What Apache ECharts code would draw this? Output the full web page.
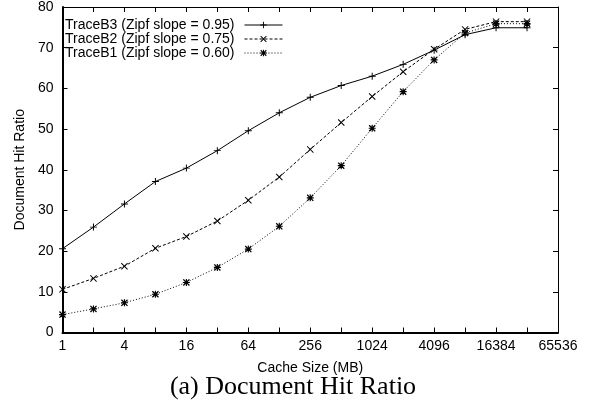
<!DOCTYPE html>
<html>
<head>
<meta charset="utf-8">
<script src="https://cdn.jsdelivr.net/npm/echarts@6/dist/echarts.min.js"></script>
<style>
html,body{margin:0;padding:0;background:#fff;}
#chart{width:591px;height:404px;}
</style>
</head>
<body>
<div id="chart"></div>
<script>
// Cache sizes (MB)
const cacheSizes = [1, 2, 4, 8, 16, 32, 64, 128, 256, 512, 1024, 2048, 4096, 8192, 16384, 32768];
// Document hit ratio (%)
const traceB3 = [20.6, 25.9, 31.6, 37.1, 40.4, 44.7, 49.6, 54.0, 57.8, 60.7, 63.0, 65.9, 69.4, 73.2, 74.9, 74.9];
const traceB2 = [10.6, 13.3, 16.3, 20.7, 23.6, 27.4, 32.5, 38.2, 45.0, 51.6, 58.0, 64.1, 69.6, 74.5, 76.4, 76.4];
const traceB1 = [4.4, 5.8, 7.3, 9.4, 12.3, 16.0, 20.5, 26.1, 33.1, 41.0, 50.2, 59.2, 67.0, 73.6, 75.9, 75.9];
const seriesNames = ['TraceB3 (Zipf slope = 0.95)', 'TraceB2 (Zipf slope = 0.75)', 'TraceB1 (Zipf slope = 0.60)'];
const xTickLabels = ['1', '4', '16', '64', '256', '1024', '4096', '16384', '65536'];
const yTicks = [0, 10, 20, 30, 40, 50, 60, 70, 80];

const SANS = 'Liberation Sans, Arial, sans-serif';
const PLUS = 'path://M4.3,0H5.7V4.3H10V5.7H5.7V10H4.3V5.7H0V4.3H4.3Z';
const CROSS = 'path://M0,1L1,0L5,4L9,0L10,1L6,5L10,9L9,10L5,6L1,10L0,9L4,5Z';
const STAR = 'path://M0,1.3L1.3,0L5,3.7L8.7,0L10,1.3L6.3,5L10,8.7L8.7,10L5,6.3L1.3,10L0,8.7L3.7,5Z M4.2,0H5.8V4.2H10V5.8H5.8V10H4.2V5.8H0V4.2H4.2Z M3,3H7V7H3Z';

function pairs(vals) { return cacheSizes.map((c, i) => [c, vals[i]]); }

const chart = echarts.init(document.getElementById('chart'), null, {renderer: 'canvas'});

const xBase = {
  type: 'log', logBase: 2, min: 1, max: 65536, interval: 1,
  axisLine: {show: true, onZero: false, lineStyle: {color: '#000', width: 2}},
  axisTick: {show: true, inside: true, length: 5, lineStyle: {color: '#000'}},
  splitLine: {show: false}
};
const yBase = {
  type: 'value', min: 0, max: 80, interval: 10,
  axisLine: {show: true, onZero: false, lineStyle: {color: '#000', width: 2}},
  axisTick: {show: true, inside: true, length: 5, lineStyle: {color: '#000'}},
  splitLine: {show: false}
};

function lineSeries(name, vals, symbol, dash, size) {
  return {
    name: name, type: 'line', data: pairs(vals),
    symbol: symbol, symbolSize: size, showSymbol: true,
    lineStyle: {color: '#000', width: 1, type: dash},
    itemStyle: {color: '#000', borderWidth: 0},
    animation: false
  };
}

chart.setOption({
  animation: false,
  backgroundColor: '#fff',
  grid: {left: 62.5, right: 33, top: 6, bottom: 71.5, containLabel: false},
  xAxis: [
    Object.assign({}, xBase, {
      position: 'bottom',
      name: 'Cache Size (MB)', nameLocation: 'middle', nameGap: 29,
      nameTextStyle: {fontFamily: SANS, fontSize: 14, color: '#000'},
      axisLabel: {
        show: true, margin: 7, fontFamily: SANS, fontSize: 14, color: '#000',
        formatter: function (v) {
          const e = Math.round(Math.log2(v));
          return e % 2 === 0 ? xTickLabels[e / 2] : '';
        }
      }
    }),
    Object.assign({}, xBase, {
      position: 'top',
      axisLine: {show: true, onZero: false, lineStyle: {color: '#000', width: 1}},
      axisLabel: {show: false}
    })
  ],
  yAxis: [
    Object.assign({}, yBase, {
      position: 'left',
      name: 'Document Hit Ratio', nameLocation: 'middle', nameGap: 34, nameRotate: 90,
      nameTextStyle: {fontFamily: SANS, fontSize: 14, color: '#000'},
      axisLabel: {show: true, margin: 9, fontFamily: SANS, fontSize: 14, color: '#000',
        formatter: function (v) { return yTicks.indexOf(v) >= 0 ? String(v) : ''; }}
    }),
    Object.assign({}, yBase, {
      position: 'right',
      axisLine: {show: true, onZero: false, lineStyle: {color: '#000', width: 1}},
      axisLabel: {show: false}
    })
  ],
  legend: {
    orient: 'vertical', left: 65, top: 18, align: 'right', padding: 0,
    itemWidth: 38, itemHeight: 8, itemGap: 0,
    lineStyle: {width: 1},
    textStyle: {fontFamily: SANS, fontSize: 14, lineHeight: 14, color: '#000', padding: [0, 5, 0, 0]},
    data: seriesNames
  },
  series: [
    lineSeries(seriesNames[0], traceB3, PLUS, 'solid', 7),
    lineSeries(seriesNames[1], traceB2, CROSS, [3, 2], 7),
    lineSeries(seriesNames[2], traceB1, STAR, [1, 2], 7)
  ],
  graphic: [{
    type: 'text', x: 293, y: 387,
    style: {text: '(a) Document Hit Ratio', font: '26px "Liberation Serif", "Times New Roman", serif',
      fill: '#000', align: 'center', verticalAlign: 'middle'}
  }]
});
</script>
</body>
</html>
